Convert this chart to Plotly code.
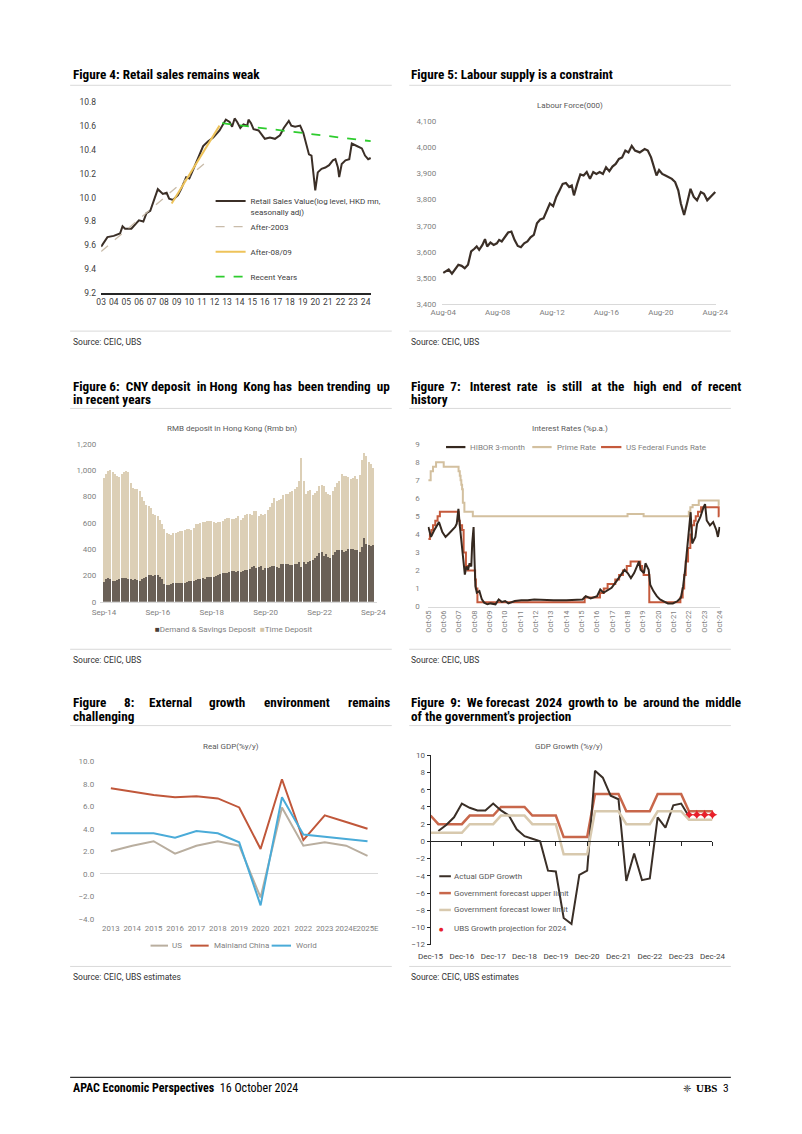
import plotly.graph_objects as go

W, H = 802, 1134

# ---------------- DATA ----------------
# Figure 4: retail sales (log level)
RS_X = [2003.0, 2003.5, 2004.0, 2004.5, 2004.7, 2004.9, 2005.4, 2005.7, 2006.0, 2006.35, 2006.6, 2006.9,
        2007.1, 2007.5, 2007.9, 2008.2, 2008.4, 2008.7, 2009.1, 2009.35, 2009.75, 2010.0, 2010.3, 2010.8,
        2011.1, 2011.5, 2011.9, 2012.4, 2012.6, 2012.9, 2013.2, 2013.4, 2013.6, 2013.8, 2014.05, 2014.3,
        2014.6, 2014.7, 2014.9, 2015.1, 2015.5, 2015.8, 2016.0, 2016.4, 2016.8, 2017.2, 2017.5, 2017.9,
        2018.1, 2018.4, 2018.8, 2019.05, 2019.3, 2019.5, 2019.7, 2019.85, 2020.0, 2020.2, 2020.5, 2020.8,
        2021.1, 2021.4, 2021.6, 2021.8, 2021.9, 2022.1, 2022.4, 2022.7, 2022.9, 2023.3, 2023.7, 2023.95,
        2024.2, 2024.4]
RS_Y = [9.59, 9.67, 9.68, 9.70, 9.76, 9.74, 9.74, 9.78, 9.81, 9.80, 9.87, 9.89,
        9.95, 10.07, 10.03, 10.04, 9.99, 9.98, 10.02, 10.07, 10.17, 10.16, 10.23, 10.35,
        10.43, 10.47, 10.50, 10.56, 10.60, 10.65, 10.63, 10.59, 10.66, 10.63, 10.58, 10.61,
        10.60, 10.65, 10.62, 10.57, 10.56, 10.52, 10.49, 10.50, 10.49, 10.52, 10.58, 10.64,
        10.60, 10.59, 10.60, 10.54, 10.45, 10.36, 10.35, 10.17, 10.06, 10.21, 10.24, 10.25,
        10.27, 10.31, 10.32, 10.25, 10.17, 10.28, 10.31, 10.32, 10.45, 10.43, 10.41, 10.35,
        10.32, 10.33]
TREND_2003_X = [2003.0, 2011.6]
TREND_2003_Y = [9.55, 10.32]
TREND_0809_X = [2008.6, 2012.4]
TREND_0809_Y = [9.95, 10.60]
TREND_RECENT_X = [2012.6, 2024.4]
TREND_RECENT_Y = [10.62, 10.47]
F4_TICKS = [2003, 2004, 2005, 2006, 2007, 2008, 2009, 2010, 2011, 2012, 2013, 2014, 2015, 2016,
            2017, 2018, 2019, 2020, 2021, 2022, 2023, 2024]
F4_TICK_TEXT = ["03", "04", "05", "06", "07", "08", "09", "10", "11", "12", "13", "14", "15", "16",
                "17", "18", "19", "20", "21", "22", "23", "24"]

# Figure 5: labour force (000)
LF_X = [2004.58, 2004.75, 2004.98, 2005.22, 2005.45, 2005.69, 2005.93, 2006.16, 2006.40, 2006.63,
        2006.87, 2007.04, 2007.22, 2007.46, 2007.65, 2007.81, 2008.05, 2008.29, 2008.52, 2008.69,
        2008.88, 2009.11, 2009.35, 2009.59, 2009.82, 2010.06, 2010.29, 2010.53, 2010.77, 2011.00,
        2011.24, 2011.47, 2011.71, 2011.95, 2012.18, 2012.42, 2012.66, 2012.89, 2013.13, 2013.36,
        2013.60, 2013.84, 2014.03, 2014.19, 2014.43, 2014.66, 2014.90, 2015.13, 2015.37, 2015.61,
        2015.84, 2016.08, 2016.32, 2016.55, 2016.79, 2017.02, 2017.26, 2017.50, 2017.73, 2017.97,
        2018.20, 2018.44, 2018.68, 2019.03, 2019.39, 2019.62, 2019.86, 2020.09, 2020.26, 2020.45,
        2020.68, 2020.92, 2021.16, 2021.39, 2021.63, 2021.86, 2022.05, 2022.29, 2022.53, 2022.76,
        2023.00, 2023.24, 2023.52, 2023.75, 2023.99, 2024.22, 2024.58]
LF_Y = [3520, 3526, 3533, 3517, 3533, 3551, 3547, 3538, 3551, 3602,
        3612, 3621, 3608, 3627, 3649, 3621, 3636, 3627, 3633, 3646,
        3640, 3659, 3674, 3678, 3646, 3623, 3618, 3633, 3640, 3656,
        3665, 3709, 3724, 3728, 3753, 3785, 3775, 3810, 3835, 3860,
        3863, 3848, 3854, 3816, 3860, 3896, 3892, 3905, 3879, 3905,
        3898, 3905, 3898, 3923, 3908, 3926, 3936, 3955, 3961, 3987,
        3980, 4005, 3987, 3980, 3993, 3987, 3961, 3923, 3892, 3913,
        3898, 3892, 3886, 3879, 3867, 3835, 3785, 3741, 3791, 3841,
        3810, 3797, 3829, 3822, 3797, 3810, 3829]
F5_TICKS = [2004.58, 2008.58, 2012.58, 2016.58, 2020.58, 2024.58]
F5_TICK_TEXT = ["Aug-04", "Aug-08", "Aug-12", "Aug-16", "Aug-20", "Aug-24"]

# Figure 6: RMB deposits, monthly Sep-14 .. Sep-24 (Rmb bn)
DEMAND = [150, 175, 178, 175, 160, 158, 165, 170, 178, 180, 178, 172,
          170, 168, 175, 165, 160, 172, 180, 190, 200, 200, 195, 200,
          200, 190, 175, 135, 125, 130, 135, 140, 140, 145, 145, 140,
          145, 150, 155, 160, 160, 165, 170, 175, 180, 175, 185, 190,
          190, 190, 195, 200, 210, 215, 215, 220, 225, 230, 235, 225,
          230, 225, 235, 240, 245, 250, 265, 270, 255, 265, 270, 240,
          255, 255, 265, 275, 270, 265, 260, 290, 290, 285, 285, 280,
          280, 290, 285, 300, 265, 300, 290, 300, 310, 320, 335, 350,
          370, 380, 350, 360, 340, 330, 355, 380, 395, 395, 390, 380,
          385, 400, 405, 400, 390, 395, 380, 415, 485, 440, 435, 425,
          430]
TIME_DEP = [792, 800, 817, 828, 825, 817, 795, 780, 792, 810, 815, 813,
            730, 697, 683, 690, 680, 628, 590, 550, 530, 510, 470, 460,
            455, 430, 415, 415, 395, 385, 375, 385, 380, 383, 390, 398,
            400, 400, 400, 388, 400, 425, 425, 425, 425, 435, 427, 425,
            428, 420, 405, 405, 400, 400, 415, 420, 410, 400, 397, 415,
            420, 400, 405, 420, 420, 420, 395, 420, 435, 390, 400, 420,
            410, 445, 455, 480, 520, 505, 515, 490, 525, 535, 535, 555,
            565, 570, 585, 620, 829, 620, 530, 540, 540, 495, 495, 495,
            510, 505, 530, 475, 480, 480, 485, 490, 510, 525, 585, 580,
            570, 550, 530, 545, 570, 540, 585, 665, 650, 670, 625, 620,
            585]
DEP_MONTH_IDX = list(range(len(DEMAND)))
F6_TICKS = [0, 24, 48, 72, 96, 120]
F6_TICK_TEXT = ["Sep-14", "Sep-16", "Sep-18", "Sep-20", "Sep-22", "Sep-24"]
F6_SERIES = ["Demand & Savings Deposit", "Time Deposit"]

# Figure 7: interest rates
HIBOR_X = [2005.75, 2005.92, 2006.13, 2006.34, 2006.44, 2006.66, 2006.87, 2007.08, 2007.29, 2007.5,
           2007.6, 2007.71, 2007.81, 2007.92, 2008.02, 2008.13, 2008.23, 2008.34, 2008.44, 2008.55,
           2008.61, 2008.7, 2008.76, 2008.82, 2008.91, 2009.08, 2009.24, 2009.39, 2009.6, 2009.81,
           2010.13, 2010.34, 2010.55, 2010.76, 2010.97, 2011.39, 2011.81, 2012.23, 2012.66, 2013.08,
           2013.92, 2014.76, 2015.6, 2015.81, 2016.02, 2016.34, 2016.76, 2016.97, 2017.18, 2017.39,
           2017.71, 2018.02, 2018.34, 2018.55, 2018.76, 2018.97, 2019.18, 2019.35, 2019.5, 2019.6,
           2019.82, 2019.92, 2020.13, 2020.23, 2020.44, 2020.66, 2020.87, 2021.08, 2021.39, 2021.71,
           2022.02, 2022.23, 2022.38, 2022.51, 2022.66, 2022.76, 2022.87, 2022.97, 2023.18, 2023.29,
           2023.5, 2023.71, 2023.81, 2023.92, 2024.13, 2024.34, 2024.55, 2024.65, 2024.76]
HIBOR_Y = [4.41, 3.86, 4.23, 4.59, 4.68, 4.13, 3.86, 4.04, 4.23, 4.41,
           4.59, 5.41, 4.41, 3.50, 2.40, 1.77, 2.22, 2.04, 2.40, 2.22,
           3.50, 4.41, 2.59, 1.13, 0.77, 0.86, 0.40, 0.22, 0.13, 0.18,
           0.13, 0.40, 0.26, 0.31, 0.18, 0.31, 0.35, 0.35, 0.40, 0.40,
           0.36, 0.35, 0.36, 0.40, 0.58, 0.46, 0.58, 0.95, 0.77, 0.86,
           1.04, 1.40, 1.77, 2.04, 1.86, 1.58, 1.86, 2.22, 2.50, 2.04,
           1.86, 2.40, 2.04, 1.22, 0.86, 0.58, 0.40, 0.31, 0.18, 0.18,
           0.31, 0.49, 1.13, 2.04, 3.32, 4.59, 5.23, 3.50, 3.86, 4.59,
           4.95, 5.50, 5.68, 4.77, 4.50, 4.68, 4.23, 3.86, 4.41]
PRIME_X = [2005.75, 2005.9, 2006.05, 2006.25, 2006.75, 2007.72, 2007.8, 2007.85, 2007.9, 2007.95,
           2008.0, 2008.1, 2008.65, 2018.75, 2019.8, 2022.75, 2022.85, 2023.0, 2023.4, 2024.7, 2024.75]
PRIME_Y = [7.0, 7.5, 7.75, 8.0, 7.75, 7.5, 7.25, 7.0, 6.75, 6.5,
           5.75, 5.25, 5.0, 5.125, 5.0, 5.25, 5.5, 5.625, 5.875, 5.625, 5.625]
FED_X = [2005.75, 2005.85, 2005.95, 2006.05, 2006.2, 2006.35, 2006.5, 2007.72, 2007.8, 2007.95,
         2008.05, 2008.2, 2008.3, 2008.8, 2008.85, 2008.95, 2015.95, 2016.95, 2017.2, 2017.45,
         2017.95, 2018.2, 2018.45, 2018.7, 2018.95, 2019.58, 2019.7, 2019.8, 2020.17, 2022.2,
         2022.35, 2022.45, 2022.55, 2022.7, 2022.85, 2022.95, 2023.1, 2023.2, 2023.35, 2023.55,
         2024.7, 2024.75]
FED_Y = [3.75, 4.0, 4.25, 4.5, 4.75, 5.0, 5.25, 4.75, 4.5, 4.25,
         3.0, 2.25, 2.0, 1.5, 1.0, 0.25, 0.5, 0.75, 1.0, 1.25,
         1.5, 1.75, 2.0, 2.25, 2.5, 2.25, 2.0, 1.75, 0.25, 0.5,
         1.0, 1.75, 2.5, 3.25, 4.0, 4.5, 4.75, 5.0, 5.25, 5.5,
         5.0, 5.0]
F7_TICKS = [2005.75, 2006.75, 2007.75, 2008.75, 2009.75, 2010.75, 2011.75, 2012.75, 2013.75, 2014.75,
            2015.75, 2016.75, 2017.75, 2018.75, 2019.75, 2020.75, 2021.75, 2022.75, 2023.75, 2024.75]
F7_TICK_TEXT = ["Oct-05", "Oct-06", "Oct-07", "Oct-08", "Oct-09", "Oct-10", "Oct-11", "Oct-12", "Oct-13",
                "Oct-14", "Oct-15", "Oct-16", "Oct-17", "Oct-18", "Oct-19", "Oct-20", "Oct-21", "Oct-22",
                "Oct-23", "Oct-24"]
F7_SERIES = ["HIBOR 3-month", "Prime Rate", "US Federal Funds Rate"]

# Figure 8: real GDP %y/y
GDP_YEARS = ["2013", "2014", "2015", "2016", "2017", "2018", "2019", "2020", "2021", "2022", "2023",
             "2024E", "2025E"]
US_GDP = [2.0, 2.5, 2.9, 1.8, 2.5, 2.9, 2.5, -2.1, 5.9, 2.5, 2.8, 2.5, 1.6]
CN_GDP = [7.6, 7.3, 7.0, 6.8, 6.9, 6.7, 5.9, 2.2, 8.4, 3.0, 5.2, 4.6, 4.0]
WORLD_GDP = [3.6, 3.6, 3.6, 3.2, 3.8, 3.6, 2.8, -2.8, 6.8, 3.5, 3.3, 3.1, 2.9]
F8_SERIES = ["US", "Mainland China", "World"]

# Figure 9: HK GDP growth, quarterly index (0 = Dec-15)
ACTUAL_Q = list(range(1, 34))
ACTUAL = [1.2, 1.9, 2.8, 4.4, 3.9, 3.6, 3.6, 4.4, 3.6, 3.0, 1.4, 0.6, 0.3, 0.0, -3.4, -3.5,
          -8.9, -9.6, -3.9, -3.4, 8.2, 7.4, 5.3, 4.9, -4.6, -1.4, -4.5, -4.3, 2.8, 1.6, 4.2, 4.4, 2.9]
LIMIT_Q = list(range(0, 37))
UPPER = [3, 2, 2, 2, 2, 3, 3, 3, 3, 4, 4, 4, 4, 3, 3, 3, 3, 0.5, 0.5, 0.5, 0.5,
         5.5, 5.5, 5.5, 5.5, 3.5, 3.5, 3.5, 3.5, 5.5, 5.5, 5.5, 5.5, 3.5, 3.5, 3.5, 3.5]
LOWER = [1, 1, 1, 1, 1, 2, 2, 2, 2, 3, 3, 3, 3, 2, 2, 2, 2, -1.5, -1.5, -1.5, -1.5,
         3.5, 3.5, 3.5, 3.5, 2, 2, 2, 2, 3.5, 3.5, 3.5, 3.5, 2.5, 2.5, 2.5, 2.5]
UBS_Q = [33, 34, 35, 36]
UBS_PROJ = [3.1, 3.1, 3.1, 3.1]
F9_TICKS = [0, 4, 8, 12, 16, 20, 24, 28, 32, 36]
F9_TICK_TEXT = ["Dec-15", "Dec-16", "Dec-17", "Dec-18", "Dec-19", "Dec-20", "Dec-21", "Dec-22",
                "Dec-23", "Dec-24"]
F9_SERIES = ["Actual GDP Growth", "Government forecast upper limit", "Government forecast lower limit",
             "UBS Growth projection for 2024"]

# ---------------- STYLE ----------------
BODY = "Roboto"
TITLE = "Liberation Sans Narrow, Roboto Condensed, Roboto"
GREY = "#7f7f7f"
DARK = "#3b2f27"
C_DEMAND = "#6a6057"
C_TIME = "#dccfb6"
C_HIBOR, C_PRIME, C_FED = "#35281f", "#d3c09f", "#c55a3c"
C_US, C_CN, C_WD = "#b9ae9f", "#c0573a", "#4aabd8"
C_ACT, C_UP, C_LOW, C_UBS = "#3a2f27", "#c8674b", "#d8c9ae", "#e8202a"


def dx(x0, x1):
    return [x0 / W, x1 / W]


def dy(ytop, ybot):
    return [1 - ybot / H, 1 - ytop / H]


def px(x):
    return x / W


def py(y):
    return 1 - y / H


fig = go.Figure()

# ----- Figure 4 -----
fig.add_trace(go.Scatter(x=RS_X, y=RS_Y, mode="lines", line=dict(color=DARK, width=2),
                         name="Retail Sales Value(log level, HKD mn,<br>seasonally adj)",
                         legend="legend", xaxis="x", yaxis="y"))
fig.add_trace(go.Scatter(x=TREND_2003_X, y=TREND_2003_Y, mode="lines",
                         line=dict(color="#c9bcaa", width=1.3, dash="dash"),
                         name="After-2003", legend="legend6", legendgroup="b", xaxis="x", yaxis="y"))
fig.add_trace(go.Scatter(x=TREND_0809_X, y=TREND_0809_Y, mode="lines",
                         line=dict(color="#eec35a", width=2),
                         name="After-08/09", legend="legend6", legendgroup="c", xaxis="x", yaxis="y"))
fig.add_trace(go.Scatter(x=TREND_RECENT_X, y=TREND_RECENT_Y, mode="lines",
                         line=dict(color="#2ecc2e", width=1.8, dash="dash"),
                         name="Recent Years", legend="legend6", legendgroup="d", xaxis="x", yaxis="y"))

# ----- Figure 5 -----
fig.add_trace(go.Scatter(x=LF_X, y=LF_Y, mode="lines", line=dict(color=DARK, width=2.2),
                         showlegend=False, xaxis="x2", yaxis="y2"))

# ----- Figure 6 -----
fig.add_trace(go.Bar(x=DEP_MONTH_IDX, y=DEMAND, marker=dict(color=C_DEMAND, line=dict(width=0)),
                     name=F6_SERIES[0], showlegend=False, xaxis="x3", yaxis="y3"))
fig.add_trace(go.Bar(x=DEP_MONTH_IDX, y=TIME_DEP, marker=dict(color=C_TIME, line=dict(width=0)),
                     name=F6_SERIES[1], showlegend=False, xaxis="x3", yaxis="y3"))

# ----- Figure 7 -----
fig.add_trace(go.Scatter(x=PRIME_X, y=PRIME_Y, mode="lines", line=dict(color=C_PRIME, width=2, shape="hv"),
                         name=F7_SERIES[1], showlegend=False, xaxis="x4", yaxis="y4"))
fig.add_trace(go.Scatter(x=FED_X, y=FED_Y, mode="lines", line=dict(color=C_FED, width=2, shape="hv"),
                         name=F7_SERIES[2], showlegend=False, xaxis="x4", yaxis="y4"))
fig.add_trace(go.Scatter(x=HIBOR_X, y=HIBOR_Y, mode="lines", line=dict(color=C_HIBOR, width=2),
                         name=F7_SERIES[0], showlegend=False, xaxis="x4", yaxis="y4"))

# ----- Figure 8 -----
for ys, nm, col in [(US_GDP, F8_SERIES[0], C_US), (CN_GDP, F8_SERIES[1], C_CN), (WORLD_GDP, F8_SERIES[2], C_WD)]:
    fig.add_trace(go.Scatter(x=GDP_YEARS, y=ys, mode="lines", line=dict(color=col, width=2),
                             name=nm, showlegend=False, xaxis="x5", yaxis="y5"))

# ----- Figure 9 -----
fig.add_trace(go.Scatter(x=LIMIT_Q, y=UPPER, mode="lines", line=dict(color=C_UP, width=2.5),
                         name=F9_SERIES[1], showlegend=False, xaxis="x6", yaxis="y6"))
fig.add_trace(go.Scatter(x=LIMIT_Q, y=LOWER, mode="lines", line=dict(color=C_LOW, width=2.5),
                         name=F9_SERIES[2], showlegend=False, xaxis="x7", yaxis="y6"))
fig.add_trace(go.Scatter(x=ACTUAL_Q, y=ACTUAL, mode="lines", line=dict(color=C_ACT, width=2),
                         name=F9_SERIES[0], showlegend=False, xaxis="x6", yaxis="y6"))
fig.add_trace(go.Scatter(x=UBS_Q, y=UBS_PROJ, mode="markers",
                         marker=dict(symbol="star-diamond", size=7, color=C_UBS),
                         name=F9_SERIES[3], showlegend=False, cliponaxis=False, xaxis="x6", yaxis="y6"))

tick_font = dict(family=BODY, size=8, color=GREY)
tick_font_dark = dict(family=BODY, size=8.5, color="#404040")

# position of the zero line in figure 9 (paper coords)
F9_TOP, F9_BOT = 757, 948
zero_py = F9_TOP + (10 - 0) / 22 * (F9_BOT - F9_TOP)


def leg(x, ytop, color=GREY, **kw):
    d = dict(x=px(x), y=py(ytop), xanchor="left", yanchor="top", bgcolor="rgba(0,0,0,0)",
             font=dict(family=BODY, size=8, color=color))
    d.update(kw)
    return d


fig.update_layout(
    width=W, height=H, margin=dict(l=0, r=0, t=0, b=0),
    paper_bgcolor="white", plot_bgcolor="white",
    barmode="stack", bargap=0.45, hovermode=False,
    font=dict(family=BODY, size=8, color="#404040"),
    # Figure 4
    xaxis=dict(domain=dx(92, 371), range=[2003, 2024.46], tickvals=F4_TICKS, ticktext=F4_TICK_TEXT,
               showline=True, linecolor="#262626", linewidth=1.5, showgrid=False, zeroline=False,
               tickfont=tick_font_dark, ticks="", anchor="y"),
    yaxis=dict(domain=dy(97.5, 291), range=[9.2, 10.8], dtick=0.2, tickformat=".1f", showgrid=False,
               zeroline=False, tickfont=tick_font_dark, ticklabelstandoff=4, anchor="x"),
    # Figure 5
    xaxis2=dict(domain=dx(444, 727), range=[2004.5, 2024.66], tickvals=F5_TICKS, ticktext=F5_TICK_TEXT,
                showline=True, linecolor="#d9d9d9", showgrid=False, zeroline=False, tickfont=tick_font,
                ticks="", anchor="y2"),
    yaxis2=dict(domain=dy(117, 302), range=[3400, 4100], dtick=100, tickformat=",", showgrid=False,
                zeroline=False, tickfont=tick_font, ticklabelstandoff=5, anchor="x2"),
    # Figure 6
    xaxis3=dict(domain=dx(91, 377), range=[-1.7, 121.7], tickvals=F6_TICKS, ticktext=F6_TICK_TEXT,
                showline=True, linecolor="#d9d9d9", showgrid=False, zeroline=False, tickfont=tick_font,
                ticks="", ticklabelstandoff=3, anchor="y3"),
    yaxis3=dict(domain=dy(443, 602), range=[0, 1200], dtick=200, tickformat=",", showgrid=False,
                zeroline=False, tickfont=tick_font, ticklabelstandoff=3, anchor="x3"),
    # Figure 7
    xaxis4=dict(domain=dx(429, 731), range=[2005.7, 2024.8], tickvals=F7_TICKS, ticktext=F7_TICK_TEXT,
                tickangle=-90, showline=True, linecolor="#d9d9d9", showgrid=False, zeroline=False,
                tickfont=dict(family=BODY, size=7.5, color=GREY), ticks="", anchor="y4"),
    yaxis4=dict(domain=dy(443, 607), range=[0, 9], dtick=1, showgrid=False, zeroline=False,
                tickfont=tick_font, ticklabelstandoff=7, anchor="x4"),
    # Figure 8
    xaxis5=dict(domain=dx(91, 378), range=[-0.5, 12.5], type="category", showline=False, showgrid=False,
                zeroline=False, tickfont=dict(family=BODY, size=7.8, color=GREY), tickangle=0, ticks="",
                ticklabelstandoff=3, anchor="y5"),
    yaxis5=dict(domain=dy(763, 922), range=[-4, 10], dtick=2, tickformat=".1f", showgrid=False,
                zeroline=True, zerolinecolor="#d9d9d9", zerolinewidth=1, tickfont=tick_font,
                ticklabelstandoff=5, anchor="x5"),
    # Figure 9
    xaxis6=dict(domain=dx(432, 723), range=[0, 36], tickvals=F9_TICKS, ticktext=F9_TICK_TEXT,
                showline=False, showgrid=False, zeroline=False,
                tickfont=dict(family=BODY, size=8, color="#404040"), ticks="", ticklabelstandoff=5,
                anchor="y6"),
    xaxis7=dict(range=[0, 36], overlaying="x6", anchor="free", position=py(zero_py), tickvals=F9_TICKS,
                showticklabels=False, showline=True, linecolor="#262626", linewidth=1, ticks="outside",
                ticklen=4, tickcolor="#262626", showgrid=False, zeroline=False),
    yaxis6=dict(domain=dy(F9_TOP, F9_BOT), range=[-12, 10], dtick=2, showgrid=False, zeroline=False,
                showline=True, linecolor="#262626", linewidth=1, ticks="outside", ticklen=3,
                tickcolor="#262626", tickfont=dict(family=BODY, size=8, color="#595959"), anchor="x6"),
    # Legends (figure 4)
    legend=leg(205, 186, "#404040", valign="top"),
    legend6=leg(205, 209, "#404040", tracegroupgap=6, traceorder="grouped"),
)

annotations = []
shapes = []


def text(x, y, s, size=8, color="#404040", family=BODY, xanchor="left", bold=False):
    if bold:
        s = "<b>" + s + "</b>"
    annotations.append(dict(x=px(x), y=py(y), xref="paper", yref="paper", text=s, showarrow=False,
                            xanchor=xanchor, yanchor="middle",
                            font=dict(family=family, size=size, color=color)))


def hline(y, x0, x1, color="#d9d9d9", width=1.0):
    shapes.append(dict(type="line", xref="paper", yref="paper", x0=px(x0), x1=px(x1), y0=py(y), y1=py(y),
                       line=dict(color=color, width=width)))


NBSP = "\u00a0"


def spaced(line, extras):
    """Widen the word gaps with non-breaking spaces so the line fills the column (justified look)."""
    words = line.split(" ")
    out = words[0]
    for w, e in zip(words[1:], extras):
        out += " " + NBSP * e + w
    return out


# approximate bold narrow glyph widths (1/1000 em) for the widely justified figure-8 line
BOLD_W = dict(a=556, b=611, c=556, d=611, e=556, f=333, g=611, h=611, i=278, k=556, l=278, m=889, n=611,
              o=611, p=611, r=389, s=556, t=333, u=611, v=556, w=778, x=556, y=556, C=722, E=667, F=611,
              H=722, I=278, K=722, N=722, W=944, Y=667)
BOLD_W[":"] = 333


def word_width(word, size):
    return sum(BOLD_W.get(c, 556) for c in word) / 1000.0 * size * 0.82 * 1.12


def justified(line, x0, x1, y, size):
    words = line.split(" ")
    widths = [word_width(w, size) for w in words]
    n = len(words)
    gap = (x1 - x0 - sum(widths)) / (n - 1)
    half = (n + 1) // 2
    x = x0
    for i in range(half):
        text(x, y, words[i], size, "#000", TITLE, bold=True)
        x += widths[i] + gap
    x = x1
    for i in range(n - 1, half - 1, -1):
        text(x, y, words[i], size, "#000", TITLE, xanchor="right", bold=True)
        x -= widths[i] + gap


TS = 13.2
# Titles
text(61, 70, "Figure 4: Retail sales remains weak", TS, "#000", TITLE, bold=True)
text(410, 70, "Figure 5: Labour supply is a constraint", TS, "#000", TITLE, bold=True)
text(61, 385, spaced("Figure 6: CNY deposit in Hong Kong has been trending up",
                     [0, 1, 0, 1, 0, 1, 0, 1, 0, 1]), TS, "#000", TITLE, bold=True)
text(61, 398, "in recent years", TS, "#000", TITLE, bold=True)
text(410, 385, spaced("Figure 7: Interest rate is still at the high end of recent",
                      [1, 2, 1, 2, 1, 2, 1, 2, 1, 2, 1]), TS, "#000", TITLE, bold=True)
text(410, 398, "history", TS, "#000", TITLE, bold=True)
justified("Figure 8: External growth environment remains", 61, 392, 704, TS)
text(61, 718, "challenging", TS, "#000", TITLE, bold=True)
text(410, 704, spaced("Figure 9: We forecast 2024 growth to be around the middle",
                      [1, 1, 0, 1, 1, 0, 1, 1, 0, 1]), TS, "#000", TITLE, bold=True)
text(410, 718, "of the government's projection", TS, "#000", TITLE, bold=True)

# chart inner titles
text(576, 101, "Labour Force(000)", 8, "#595959", xanchor="center")
text(227, 427, "RMB deposit in Hong Kong (Rmb bn)", 8, "#595959", xanchor="center")
text(576, 427, "Interest Rates (%p.a.)", 8, "#595959", xanchor="center")
text(226, 748, "Real GDP(%y/y)", 8, "#595959", xanchor="center")
text(575, 748, "GDP Growth (%y/y)", 8, "#595959", xanchor="center")

# figure 6 legend (square key right before each label)
text(146, 630, "<span style='color:%s'>■</span>%s" % ("#4a3f36", F6_SERIES[0]), 8, GREY)
text(254, 630, "<span style='color:%s'>■</span>%s" % ("#d3c4a6", F6_SERIES[1]), 8, GREY)

# figure 7 legend keys
for (x0, x1, xt), nm, col in zip([(448, 468, 471), (537, 557, 560), (608, 629, 632)], F7_SERIES,
                                 [C_HIBOR, C_PRIME, C_FED]):
    hline(446, x0, x1, col, 2.2)
    text(xt, 446, nm, 8, GREY)

# figure 8 legend keys
for (x0, x1, xt), nm, col in zip([(143, 161, 163), (184, 203, 206), (268, 288, 291)], F8_SERIES,
                                 [C_US, C_CN, C_WD]):
    hline(949, x0, x1, col, 2)
    text(xt, 949, nm, 8, GREY)

# figure 9 legend keys
for yy, nm, col, wd in zip([879, 896, 913], F9_SERIES[:3], [C_ACT, C_UP, C_LOW], [2, 2.5, 2.5]):
    hline(yy, 441, 453, col, wd)
    text(454, yy, nm, 8, "#595959")
text(443, 932, "●", 5, C_UBS, "DejaVu Sans", xanchor="center")
text(454, 932, F9_SERIES[3], 8, "#595959")

# sources
text(61, 340, "Source: CEIC, UBS", 8.5, "#333")
text(410, 340, "Source: CEIC, UBS", 8.5, "#333")
text(61, 661, "Source: CEIC, UBS", 8.5, "#333")
text(410, 661, "Source: CEIC, UBS", 8.5, "#333")
text(61, 981, "Source: CEIC, UBS estimates", 8.5, "#333")
text(410, 981, "Source: CEIC, UBS estimates", 8.5, "#333")

# footer
text(61, 1093, "<b>APAC Economic Perspectives</b>  16 October 2024", 12, "#000", TITLE)
text(697, 1093, "❈", 10, "#333", "DejaVu Sans", xanchor="center")
text(704, 1093, "<b>UBS</b>", 11, "#000", "Liberation Serif")
text(742, 1093, "3", 11.5, "#000", TITLE, xanchor="right")

for yy in (81, 407, 727, 329, 650, 970):
    hline(yy, 60, 392)
    hline(yy, 410, 742)
hline(1082, 60, 742, "#333", 1.2)

fig.update_layout(annotations=annotations, shapes=shapes)

fig.write_html("out.html", config={"displayModeBar": False})
